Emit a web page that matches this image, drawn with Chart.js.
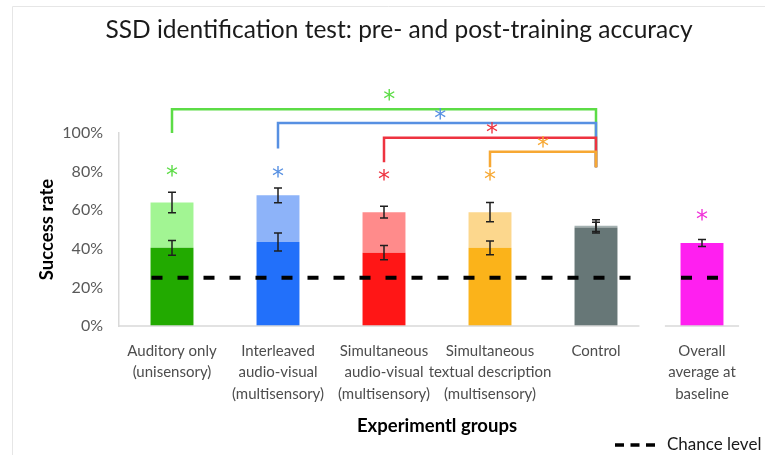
<!DOCTYPE html>
<html>
<head>
<meta charset="utf-8">
<script src="https://cdn.jsdelivr.net/npm/chart.js@4.4.0/dist/chart.umd.min.js"></script>
<style>
  html, body { margin: 0; padding: 0; background: #fff; }
  canvas { display: block; }
</style>
</head>
<body>
<canvas id="chart" width="765" height="455"></canvas>
<script>
// groups along the x axis
const groups = [
  ['Auditory only', '(unisensory)'],
  ['Interleaved', 'audio-visual', '(multisensory)'],
  ['Simultaneous', 'audio-visual', '(multisensory)'],
  ['Simultaneous', 'textual description', '(multisensory)'],
  ['Control'],
  ['Overall', 'average at', 'baseline']
];

// success rate (%) before and after training, with error bars
const preTraining = [40.5, 43.5, 38, 40.5, 51, 43];
const postTraining = [64, 67.7, 59, 59, 52, null];
const preError = [3.8, 4.7, 3.7, 3.6, 2.8, 1.8];
const postError = [5.3, 3.8, 3, 5, 3, null];

const chanceLevel = 25;
const yTicks = [0, 20, 40, 60, 80, 100];

// asterisk above each group (pre vs post)
const groupStar = [80.5, 80, 78, 78, null, 57.5];

// comparisons against the control group
const bracketFrom = [0, 1, 2, 3];
const bracketTo = 4;
const bracketTop = [112.3, 105.2, 97.6, 90.3];
const bracketFoot = [100, 92, 84.8, 82.2];
const bracketStarX = [2.05, 2.53, 3.02, 3.5];
const bracketStarY = [119.7, 110, 102.6, 95.5];

const darkColors = ['#22aa00', '#2270fa', '#ff1616', '#fbb31a', '#677777', '#ff1ff0'];
const lightColors = ['#a2f593', '#8db3f9', '#ff8b8b', '#fcd78d', '#a3b1b1', '#ff1ff0'];
const markColors = ['#5cdc46', '#5790e2', '#ee3340', '#f7a833', null, '#f030d8'];

const gain = postTraining.map((v, i) => v === null ? 0 : v - preTraining[i]);

function star(ctx, x, y, color) {
  ctx.save();
  ctx.font = '24px "DejaVu Sans"';
  ctx.fillStyle = color;
  ctx.textAlign = 'center';
  ctx.textBaseline = 'alphabetic';
  const m = ctx.measureText('*');
  ctx.fillText('*', x, y + (m.actualBoundingBoxAscent - m.actualBoundingBoxDescent) / 2);
  ctx.restore();
}

const extras = {
  id: 'extras',
  beforeDraw(chart) {
    const ctx = chart.ctx;
    ctx.save();
    ctx.strokeStyle = '#e6e6e6';
    ctx.lineWidth = 1;
    ctx.beginPath();
    ctx.moveTo(12.5, 455);
    ctx.lineTo(12.5, 6.5);
    ctx.lineTo(765, 6.5);
    ctx.stroke();

    // title
    ctx.fillStyle = '#1a1a1a';
    ctx.font = '24.5px Lato';
    ctx.textAlign = 'center';
    ctx.textBaseline = 'middle';
    ctx.fillText('SSD identification test: pre- and post-training accuracy', 399, 30);
    ctx.restore();
  },
  afterDatasetsDraw(chart) {
    const ctx = chart.ctx;
    const x = chart.scales.x;
    const y = chart.scales.y;
    const area = chart.chartArea;
    const cw = x.getPixelForValue(1) - x.getPixelForValue(0);
    ctx.save();

    // x baseline, split before the baseline group
    ctx.strokeStyle = '#d9d9d9';
    ctx.lineWidth = 1.5;
    ctx.beginPath();
    ctx.moveTo(area.left, area.bottom);
    ctx.lineTo(x.getPixelForValue(4) + 0.41 * cw, area.bottom);
    ctx.moveTo(x.getPixelForValue(5) - 0.35 * cw, area.bottom);
    ctx.lineTo(x.getPixelForValue(5) + 0.35 * cw, area.bottom);
    ctx.stroke();

    // error bars
    ctx.strokeStyle = '#1f1f1f';
    ctx.lineWidth = 1.5;
    const errBar = (i, v, e) => {
      const px = x.getPixelForValue(i);
      const y1 = y.getPixelForValue(v - e), y2 = y.getPixelForValue(v + e);
      ctx.beginPath();
      ctx.moveTo(px, y1); ctx.lineTo(px, y2);
      ctx.moveTo(px - 4, y1); ctx.lineTo(px + 4, y1);
      ctx.moveTo(px - 4, y2); ctx.lineTo(px + 4, y2);
      ctx.stroke();
    };
    groups.forEach((g, i) => {
      errBar(i, preTraining[i], preError[i]);
      if (postTraining[i] !== null) errBar(i, postTraining[i], postError[i]);
    });

    // chance level
    const cy = y.getPixelForValue(chanceLevel);
    ctx.strokeStyle = '#000';
    ctx.lineWidth = 4;
    ctx.setLineDash([11, 15]);
    ctx.beginPath();
    ctx.moveTo(x.getPixelForValue(0) - 20.5, cy);
    ctx.lineTo(x.getPixelForValue(4) + 38, cy);
    ctx.stroke();
    ctx.beginPath();
    ctx.moveTo(x.getPixelForValue(5) - 21, cy);
    ctx.lineTo(x.getPixelForValue(5) + 16, cy);
    ctx.stroke();
    ctx.setLineDash([]);

    // brackets to control
    ctx.lineWidth = 2.5;
    const xr = x.getPixelForValue(bracketTo);
    const lowest = Math.min(...bracketFoot);
    bracketFrom.forEach((f, k) => {
      ctx.strokeStyle = markColors[f];
      ctx.beginPath();
      ctx.moveTo(x.getPixelForValue(f), y.getPixelForValue(bracketFoot[k]));
      ctx.lineTo(x.getPixelForValue(f), y.getPixelForValue(bracketTop[k]));
      ctx.lineTo(xr, y.getPixelForValue(bracketTop[k]));
      ctx.lineTo(xr, y.getPixelForValue(lowest));
      ctx.stroke();
      star(ctx, x.getPixelForValue(bracketStarX[k]), y.getPixelForValue(bracketStarY[k]), markColors[f]);
    });

    groupStar.forEach((v, i) => {
      if (v !== null) star(ctx, x.getPixelForValue(i), y.getPixelForValue(v), markColors[i]);
    });

    // legend
    ctx.strokeStyle = '#000';
    ctx.lineWidth = 3.5;
    ctx.setLineDash([9, 6.5]);
    ctx.beginPath();
    ctx.moveTo(615, 445);
    ctx.lineTo(661, 445);
    ctx.stroke();
    ctx.setLineDash([]);
    ctx.fillStyle = '#1a1a1a';
    ctx.font = '17px Lato';
    ctx.textBaseline = 'middle';
    ctx.textAlign = 'left';
    ctx.fillText('Chance level', 667, 445);
    ctx.restore();
  }
};

new Chart(document.getElementById('chart'), {
  type: 'bar',
  data: {
    labels: groups,
    datasets: [
      { label: 'Pre-training', data: preTraining, backgroundColor: darkColors },
      { label: 'Post-training', data: gain, backgroundColor: lightColors }
    ]
  },
  options: {
    responsive: false,
    animation: false,
    devicePixelRatio: 1,
    layout: { padding: { left: 0, right: 10, top: 133, bottom: 0 } },
    datasets: { bar: { barPercentage: 0.405, categoryPercentage: 1 } },
    scales: {
      x: {
        stacked: true,
        grid: { display: false, drawTicks: false },
        border: { display: false },
        ticks: {
          color: '#4d4d4d',
          font: { family: 'Lato', size: 15, lineHeight: 1.45 },
          padding: 14,
          maxRotation: 0,
          autoSkip: false
        },
        title: {
          display: true,
          text: 'Experimentl groups',
          color: '#000',
          font: { family: 'Lato', size: 18.5, weight: 'bold' },
          padding: { top: 0, bottom: 18 }
        },
        afterFit: s => { s.height = 129; }
      },
      y: {
        stacked: true,
        min: 0,
        max: 100,
        afterBuildTicks: s => { s.ticks = yTicks.map(v => ({ value: v })); },
        ticks: {
          callback: v => v + '%',
          padding: 16,
          color: '#595959',
          font: { family: 'Lato', size: 16 }
        },
        grid: { display: false, drawTicks: false },
        border: { display: true, color: '#d9d9d9', width: 1.5 },
        title: {
          display: true,
          text: 'Success rate',
          color: '#000',
          font: { family: 'Lato', size: 18.5, weight: 'bold' },
          padding: { top: 36, bottom: 0 }
        },
        afterFit: s => { s.width = 119; }
      }
    },
    plugins: {
      legend: { display: false },
      tooltip: { enabled: false },
      title: { display: false }
    }
  },
  plugins: [extras]
});
</script>
</body>
</html>
